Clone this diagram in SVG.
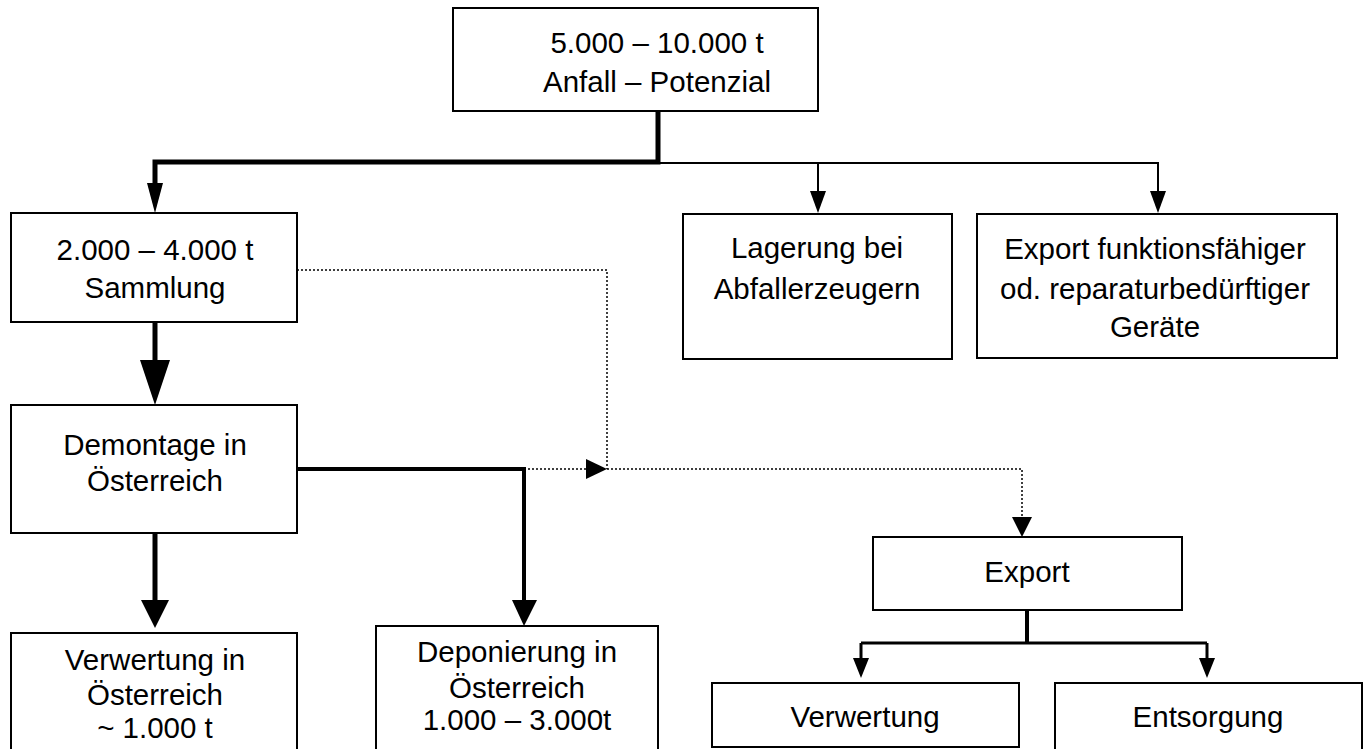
<svg xmlns="http://www.w3.org/2000/svg" width="1370" height="749" viewBox="0 0 1370 749">
<style>
.box{fill:#fff;stroke:#000;stroke-width:2}
.t{font-family:"Liberation Sans",Arial,sans-serif;font-size:29.5px;fill:#000;text-anchor:middle}
.thick{fill:none;stroke:#000;stroke-width:5}
.mid{fill:none;stroke:#000;stroke-width:3}
.thin{fill:none;stroke:#000;stroke-width:2}
.dot{fill:none;stroke:#000;stroke-width:1.5;stroke-dasharray:2 2}
.ah{fill:#000;stroke:none}
</style>
<rect width="1370" height="749" fill="#fff"/>
<g id="connectors">
<path class="thick" d="M658,111 V162 H155 V185"/>
<polygon class="ah" points="147,183 163,183 155,213"/>
<path class="thin" d="M658,163 H1158 V194 M818,163 V194"/>
<polygon class="ah" points="810,191 826,191 818,213"/>
<polygon class="ah" points="1150,191 1166,191 1158,213"/>
<path class="thick" d="M155,322 V362"/>
<polygon class="ah" points="140,360 170,360 155,405"/>
<path class="thick" d="M155,533 V602"/>
<polygon class="ah" points="141,600 169,600 155,628"/>
<path class="mid" d="M297,469 H524 V602" style="stroke-width:4"/>
<polygon class="ah" points="512,600 537,600 524,626"/>
<path class="dot" d="M297,270 H607 V469"/>
<path class="dot" d="M524,469 H588"/>
<polygon class="ah" points="586,459 586,479 607,469"/>
<path class="dot" d="M607,469 H1022 V519"/>
<polygon class="ah" points="1012,517 1032,517 1022,537"/>
<path class="thick" d="M1027,610 V643" style="stroke-width:4"/>
<path class="mid" d="M861,643 H1207 M861,643 V660 M1207,643 V660"/>
<polygon class="ah" points="853,658 869,658 861,678"/>
<polygon class="ah" points="1199,658 1215,658 1207,678"/>
</g>
<g id="n-top">
<rect class="box" x="453" y="8" width="365" height="103"/>
<text class="t" x="657" y="53">5.000 – 10.000 t</text>
<text class="t" x="657" y="92">Anfall – Potenzial</text>
</g>
<g id="n-sammlung">
<rect class="box" x="11" y="213" width="286" height="109"/>
<text class="t" x="155" y="260">2.000 – 4.000 t</text>
<text class="t" x="155" y="298">Sammlung</text>
</g>
<g id="n-lagerung">
<rect class="box" x="683" y="214" width="269" height="145"/>
<text class="t" x="817" y="258">Lagerung bei</text>
<text class="t" x="817" y="299">Abfallerzeugern</text>
</g>
<g id="n-exportgeraete">
<rect class="box" x="977" y="214" width="360" height="144"/>
<text class="t" x="1155" y="259">Export funktionsfähiger</text>
<text class="t" x="1155" y="299">od. reparaturbedürftiger</text>
<text class="t" x="1155" y="337">Geräte</text>
</g>
<g id="n-demontage">
<rect class="box" x="11" y="405" width="286" height="128"/>
<text class="t" x="155" y="455">Demontage in</text>
<text class="t" x="155" y="491">Österreich</text>
</g>
<g id="n-verwertung-at">
<rect class="box" x="11" y="633" width="286" height="130"/>
<text class="t" x="155" y="670">Verwertung in</text>
<text class="t" x="155" y="705">Österreich</text>
<text class="t" x="155" y="738">~ 1.000 t</text>
</g>
<g id="n-deponierung">
<rect class="box" x="376" y="626" width="282" height="137"/>
<text class="t" x="517" y="662">Deponierung in</text>
<text class="t" x="517" y="698">Österreich</text>
<text class="t" x="517" y="730">1.000 – 3.000t</text>
</g>
<g id="n-export">
<rect class="box" x="873" y="537" width="309" height="73"/>
<text class="t" x="1027" y="582">Export</text>
</g>
<g id="n-verwertung">
<rect class="box" x="712" y="683" width="307" height="64"/>
<text class="t" x="865" y="727">Verwertung</text>
</g>
<g id="n-entsorgung">
<rect class="box" x="1055" y="683" width="307" height="80"/>
<text class="t" x="1208" y="727">Entsorgung</text>
</g>
</svg>
